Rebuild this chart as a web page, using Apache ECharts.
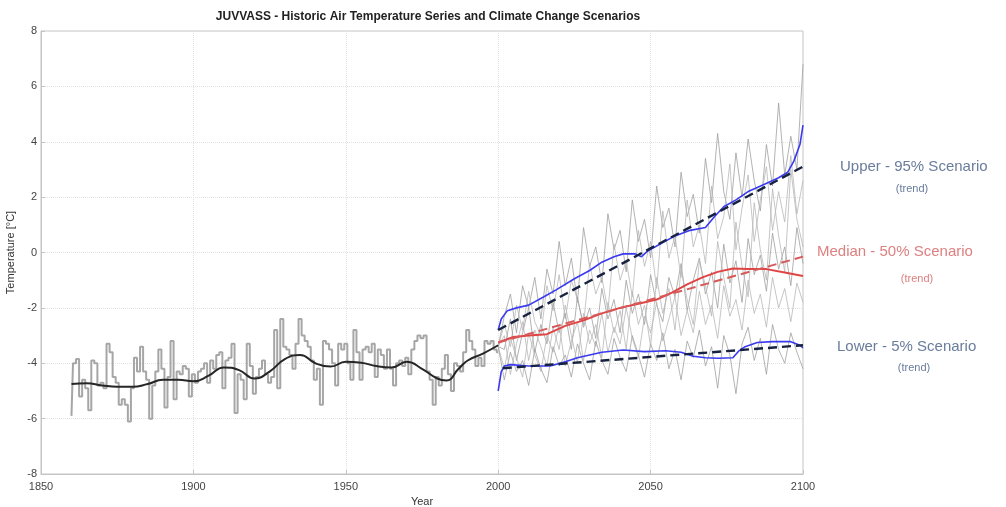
<!DOCTYPE html>
<html>
<head>
<meta charset="utf-8">
<title>JUVVASS - Historic Air Temperature Series and Climate Change Scenarios</title>
<script src="https://cdn.jsdelivr.net/npm/echarts@6/dist/echarts.min.js"></script>
<style>
  html, body { margin: 0; padding: 0; background: #ffffff; }
  #chart { width: 1006px; height: 507px; }
</style>
</head>
<body>
<div id="chart"></div>
<script>
// ---- Historic annual mean air temperature, 1860-2000 (°C) ----
const histStartYear = 1860;
const histTemps = [
  -5.9, -4.0, -3.85, -5.2, -4.6, -4.9, -5.7, -3.9, -4.0, -4.8,
  -4.7, -4.9, -3.3, -3.6, -4.5, -4.7, -5.5, -5.3, -5.5, -6.1,
  -4.9, -3.8, -4.3, -3.4, -4.3, -4.6, -6.0, -4.8, -4.3, -3.5,
  -4.2, -5.6, -4.5, -3.2, -5.3, -4.3, -4.4, -4.1, -4.2, -5.2,
  -4.4, -4.7, -4.3, -4.2, -4.0, -4.7, -3.9, -4.2, -3.7, -3.6,
  -4.9, -3.9, -3.8, -3.3, -5.8, -4.4, -4.6, -5.3, -3.3, -4.1,
  -5.1, -4.5, -4.2, -3.9, -4.4, -4.7, -4.5, -2.8, -4.9, -2.4,
  -3.4, -3.5, -3.7, -4.2, -3.3, -2.4, -3.0, -3.2, -3.4, -3.9,
  -4.6, -4.2, -5.5, -3.2, -3.3, -3.5, -4.0, -4.8, -3.3, -3.5,
  -3.3, -4.0, -4.6, -2.8, -3.6, -4.6, -3.5, -3.4, -3.6, -3.3,
  -4.5, -3.5, -3.7, -4.2, -3.5, -4.2, -4.8, -4.0, -3.9, -4.1,
  -3.8, -4.4, -3.5, -3.2, -3.0, -3.1, -3.0, -4.3, -4.6, -5.5,
  -4.5, -4.8, -4.2, -3.7, -4.4, -5.0, -4.0, -4.1, -4.3, -3.6,
  -2.8, -3.2, -3.5, -4.1, -3.8, -4.1, -3.2, -3.3, -3.2, -3.5,
  -3.6
];

// ---- Smoothed historic trend ----
const smoothYears = [1860, 1865, 1870, 1875, 1880, 1885, 1890, 1895, 1900, 1905,
  1910, 1915, 1920, 1925, 1930, 1935, 1940, 1945, 1950, 1955,
  1960, 1965, 1970, 1975, 1980, 1983, 1987, 1990, 1995, 2000];
const smoothTemps = [-4.75, -4.72, -4.8, -4.85, -4.85, -4.75, -4.6, -4.6, -4.65, -4.45,
  -4.15, -4.25, -4.55, -4.3, -3.85, -3.7, -4.0, -4.12, -3.95, -3.98,
  -4.1, -4.15, -3.95, -4.2, -4.55, -4.62, -4.2, -3.9, -3.65, -3.35];

// ---- Scenario realisations, 2002-2100 every second year ----
const scenYears = [2002, 2004, 2006, 2008, 2010, 2012, 2014, 2016, 2018, 2020,
  2022, 2024, 2026, 2028, 2030, 2032, 2034, 2036, 2038, 2040,
  2042, 2044, 2046, 2048, 2050, 2052, 2054, 2056, 2058, 2060,
  2062, 2064, 2066, 2068, 2070, 2072, 2074, 2076, 2078, 2080,
  2082, 2084, 2086, 2088, 2090, 2092, 2094, 2096, 2098, 2100];
const runA = [-2.3, -1.5, -2.9, -1.2, -2.0, -0.9, -2.4, -0.6, -1.5, 0.4,
  -1.2, -0.2, -1.8, 0.9, -0.5, 0.2, -1.1, 1.4, 0.1, 0.8,
  -0.7, 1.9, 0.4, 1.2, -0.2, 2.4, 0.9, 1.6, 0.2, 2.9,
  1.3, 2.1, 0.7, 3.4, 1.8, 4.3, 2.2, 1.2, 3.6, 2.0,
  4.1, 2.6, 1.5, 3.9, 2.4, 5.4, 2.8, 4.2, 3.0, 6.8];
const runB = [-2.6, -3.4, -1.9, -2.8, -1.4, -2.5, -3.0, -1.2, -2.1, -0.8,
  -2.4, -1.0, -1.7, -2.6, -0.4, -1.5, -0.9, -2.1, 0.3, -1.0,
  -0.3, -1.6, 0.8, -0.5, 0.4, -1.3, 1.5, -0.2, 0.6, -0.9,
  1.9, 0.2, 1.0, -0.4, 2.4, 0.5, 1.3, 3.2, 0.1, 1.6,
  2.8, 0.4, 1.9, 3.1, 0.8, 2.2, 1.1, 3.5, 1.4, 2.6];
const runC = [-3.5, -2.4, -3.9, -2.9, -2.0, -3.6, -2.6, -3.3, -1.8, -2.9,
  -2.2, -3.5, -1.6, -2.7, -2.0, -3.1, -1.3, -2.4, -1.7, -2.9,
  -1.0, -2.2, -1.5, -2.6, -0.8, -1.9, -2.5, -0.9, -1.6, -0.4,
  -2.1, -1.0, -0.2, -1.5, -0.7, -2.0, 0.3, -1.1, -0.3, -1.8,
  0.5, -0.8, -0.1, -1.4, 0.7, -0.6, 0.2, -1.2, 0.9, -0.4];
const runD = [-4.2, -3.1, -3.8, -4.5, -2.9, -3.7, -4.3, -3.0, -3.6, -2.6,
  -4.1, -3.2, -2.5, -3.9, -2.8, -3.4, -2.2, -3.6, -2.7, -3.3,
  -2.0, -3.1, -3.8, -2.3, -2.9, -1.8, -3.2, -2.4, -1.6, -3.0,
  -2.1, -2.9, -1.4, -2.6, -1.9, -3.1, -1.2, -2.3, -1.7, -2.8,
  -1.0, -2.2, -1.5, -2.7, -0.9, -2.0, -1.3, -2.5, -1.1, -1.8];
const runE = [-4.6, -3.6, -4.3, -3.9, -4.8, -3.5, -4.2, -4.7, -3.4, -4.1,
  -3.7, -4.5, -3.3, -4.0, -4.6, -3.2, -3.9, -4.4, -3.1, -3.8,
  -4.3, -3.0, -3.7, -4.5, -3.3, -3.9, -2.9, -4.2, -3.5, -4.6,
  -3.2, -3.8, -2.8, -4.1, -3.4, -4.9, -3.0, -3.7, -5.1, -3.3,
  -2.7, -3.9, -3.1, -4.4, -2.6, -3.5, -4.0, -2.9, -3.6, -4.2];
const runF = [-3.0, -4.4, -3.3, -2.5, -3.9, -2.8, -3.4, -4.1, -2.7, -3.5,
  -1.9, -3.0, -4.0, -2.2, -3.3, -2.6, -3.8, -1.8, -2.9, -2.1,
  -3.5, -1.4, -2.6, -1.9, -3.4, -0.9, -2.2, -1.3, -2.8, -0.6,
  -1.7, -2.6, -0.3, -1.2, -2.3, 0.4, -0.9, -2.0, 1.1, -0.5,
  -1.6, 1.8, 0.1, -1.0, 2.3, 0.6, -0.7, 3.0, 1.2, 0.2];

// ---- Scenario envelopes (running percentiles) ----
const upperYears = [2000, 2001, 2003, 2006, 2010, 2015, 2019, 2025, 2030, 2034,
  2038, 2041, 2045, 2047, 2049, 2053, 2058, 2063, 2068, 2071,
  2074, 2078, 2082, 2085, 2089, 2092, 2095, 2097, 2099, 2100];
const upperTemps = [-2.8, -2.4, -2.1, -2.0, -1.9, -1.6, -1.35, -0.95, -0.65, -0.35,
  -0.15, -0.05, -0.05, -0.15, 0.05, 0.3, 0.6, 0.8, 0.9, 1.3,
  1.65, 1.9, 2.2, 2.35, 2.55, 2.7, 2.9, 3.3, 3.9, 4.6];

const medianYears = [2000, 2005, 2010, 2016, 2022, 2028, 2034, 2040, 2046, 2052,
  2057, 2062, 2067, 2072, 2077, 2082, 2088, 2094, 2100];
const medianTemps = [-3.25, -3.05, -3.0, -2.95, -2.65, -2.45, -2.2, -2.0, -1.85, -1.7,
  -1.45, -1.15, -0.9, -0.7, -0.58, -0.6, -0.6, -0.72, -0.85];

const lowerYears = [2000, 2001, 2002, 2004, 2010, 2017, 2022, 2026, 2030, 2034,
  2041, 2048, 2055, 2060, 2064, 2068, 2072, 2077, 2079, 2081,
  2085, 2090, 2096, 2099, 2100];
const lowerTemps = [-5.0, -4.3, -4.1, -4.05, -4.1, -4.1, -3.95, -3.8, -3.7, -3.6,
  -3.52, -3.58, -3.55, -3.6, -3.75, -3.8, -3.82, -3.8, -3.55, -3.4,
  -3.25, -3.22, -3.22, -3.35, -3.45];

// ---- Linear scenario trends (start / end) ----
const upperTrendYears = [2000, 2100];
const upperTrendTemps = [-2.8, 3.1];
const medianTrendYears = [2000, 2100];
const medianTrendTemps = [-3.25, -0.15];
const lowerTrendYears = [2001.5, 2100];
const lowerTrendTemps = [-4.18, -3.35];

// ---- Axis ticks and labels ----
const xTicks = { min: 1850, max: 2100, step: 50 };
const yTicks = { min: -8, max: 8, step: 2 };
const titleText = 'JUVVASS - Historic Air Temperature Series and Climate Change Scenarios';
const scenarioLabels = [
  ['Upper - 95% Scenario', '(trend)'],
  ['Median - 50% Scenario', '(trend)'],
  ['Lower - 5% Scenario', '(trend)']
];

const pairs = (xs, ys) => ys.map((v, i) => [xs[i], v]);
const histPairs = histTemps.map((v, i) => [histStartYear + i, v]);

const FONT = '"Liberation Sans", Arial, sans-serif';

const runSeries = [runA, runB, runC, runD, runE, runF].map((run, k) => ({
  type: 'line',
  data: [[2000, -3.4]].concat(pairs(scenYears, run)),
  symbol: 'none',
  silent: true,
  z: 1,
  lineStyle: { color: k % 2 ? '#b8b8b8' : '#a0a0a0', width: 0.8 }
}));

const BLUE_TXT = '#6a7c9c';
const RED_TXT = '#de8080';

const chart = echarts.init(document.getElementById('chart'), null, { renderer: 'canvas' });

chart.setOption({
  backgroundColor: '#ffffff',
  animation: false,
  title: {
    text: titleText,
    left: 423,
    textAlign: 'center',
    top: 6,
    textStyle: { fontFamily: FONT, fontSize: 12, fontWeight: 'bold', color: '#222' }
  },
  grid: {
    left: 41, right: 203, top: 31, bottom: 33,
    outerBoundsMode: 'none',
    containLabel: false,
    show: true, borderColor: '#c4c4c4', borderWidth: 1, backgroundColor: 'transparent'
  },
  xAxis: {
    type: 'value',
    min: xTicks.min, max: xTicks.max, interval: xTicks.step,
    name: 'Year', nameLocation: 'middle', nameGap: 22,
    nameTextStyle: { fontFamily: FONT, fontSize: 11, color: '#333' },
    axisLine: { show: true, onZero: false, lineStyle: { color: '#c4c4c4' } },
    axisTick: { show: true, inside: true, length: 4, lineStyle: { color: '#c4c4c4' } },
    axisLabel: { fontFamily: FONT, fontSize: 11, color: '#444', margin: 7,
      formatter: v => String(v) },
    splitLine: { show: true, lineStyle: { color: '#e2e2e2', type: 'dotted', width: 1 } }
  },
  yAxis: {
    type: 'value',
    min: yTicks.min, max: yTicks.max, interval: yTicks.step,
    name: 'Temperature [°C]', nameLocation: 'middle', nameGap: 20,
    nameTextStyle: { fontFamily: FONT, fontSize: 11, color: '#333' },
    axisLine: { show: true, onZero: false, lineStyle: { color: '#c4c4c4' } },
    axisTick: { show: true, inside: true, length: 4, lineStyle: { color: '#c4c4c4' } },
    axisLabel: { fontFamily: FONT, fontSize: 11, color: '#444', margin: 4 },
    splitLine: { show: true, lineStyle: { color: '#e2e2e2', type: 'dotted', width: 1 } }
  },
  series: runSeries.concat([
    {
      type: 'line', data: histPairs, step: 'middle', symbol: 'none', z: 2,
      lineStyle: { color: '#a6a6a6', width: 2 }
    },
    {
      type: 'line', data: pairs(smoothYears, smoothTemps), smooth: 0.5, symbol: 'none', z: 3,
      lineStyle: { color: '#262626', width: 2 }
    },
    {
      type: 'line', data: pairs(upperYears, upperTemps), symbol: 'none', z: 4,
      lineStyle: { color: '#3a3af0', width: 1.6 }
    },
    {
      type: 'line', data: pairs(lowerYears, lowerTemps), symbol: 'none', z: 4,
      lineStyle: { color: '#3a3af0', width: 1.6 }
    },
    {
      type: 'line', data: pairs(medianYears, medianTemps), symbol: 'none', z: 4,
      lineStyle: { color: '#e04545', width: 2 }
    },
    {
      type: 'line', data: pairs(upperTrendYears, upperTrendTemps), symbol: 'none', z: 5,
      lineStyle: { color: '#16223f', width: 2.4, type: [9, 5] }
    },
    {
      type: 'line', data: pairs(lowerTrendYears, lowerTrendTemps), symbol: 'none', z: 5,
      lineStyle: { color: '#16223f', width: 2.4, type: [9, 5] }
    },
    {
      type: 'line', data: pairs(medianTrendYears, medianTrendTemps), symbol: 'none', z: 5,
      lineStyle: { color: '#d65a5a', width: 2, type: [9, 5] }
    }
  ]),
  graphic: [
    { type: 'text', x: 840, y: 167, style: { text: scenarioLabels[0][0], fill: BLUE_TXT, font: '15px ' + FONT, textVerticalAlign: 'middle' } },
    { type: 'text', x: 912, y: 189, style: { text: scenarioLabels[0][1], fill: BLUE_TXT, font: '11px ' + FONT, textAlign: 'center', textVerticalAlign: 'middle' } },
    { type: 'text', x: 817, y: 252, style: { text: scenarioLabels[1][0], fill: RED_TXT, font: '15px ' + FONT, textVerticalAlign: 'middle' } },
    { type: 'text', x: 917, y: 279, style: { text: scenarioLabels[1][1], fill: RED_TXT, font: '11px ' + FONT, textAlign: 'center', textVerticalAlign: 'middle' } },
    { type: 'text', x: 837, y: 347, style: { text: scenarioLabels[2][0], fill: BLUE_TXT, font: '15px ' + FONT, textVerticalAlign: 'middle' } },
    { type: 'text', x: 914, y: 368, style: { text: scenarioLabels[2][1], fill: BLUE_TXT, font: '11px ' + FONT, textAlign: 'center', textVerticalAlign: 'middle' } }
  ]
});
</script>
</body>
</html>
